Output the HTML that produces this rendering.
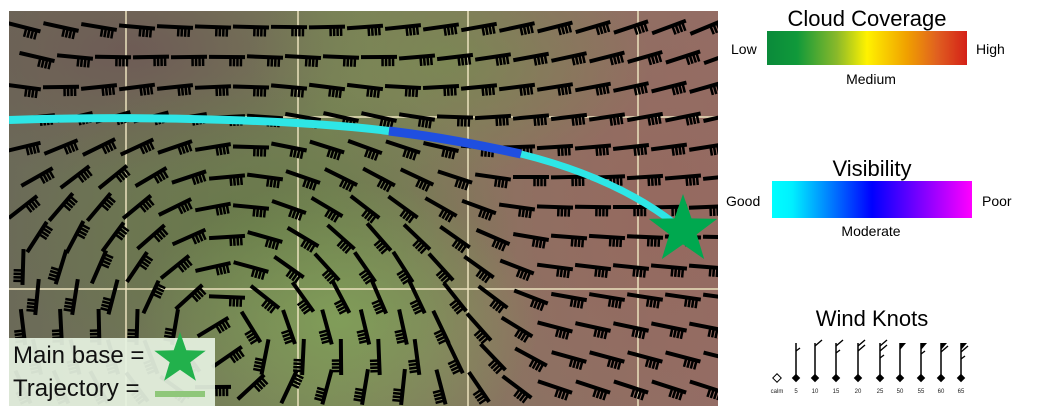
<!DOCTYPE html>
<html><head><meta charset="utf-8">
<style>
body{margin:0;width:1037px;height:414px;background:#fff;overflow:hidden;font-family:"Liberation Sans",sans-serif;position:relative}
#map{position:absolute;left:9px;top:11px;width:709px;height:395px;overflow:hidden;
background:
radial-gradient(ellipse 200px 140px at 330px 310px,rgba(130,160,90,0.9),rgba(130,160,90,0) 100%),
radial-gradient(ellipse 260px 160px at 250px 220px,rgba(100,120,70,0.8),rgba(100,120,70,0) 100%),
radial-gradient(ellipse 200px 120px at 440px 50px,rgba(120,140,80,0.7),rgba(120,140,80,0) 100%),
radial-gradient(ellipse 260px 300px at 650px 200px,rgba(150,105,95,0.9),rgba(150,105,95,0) 100%),
radial-gradient(ellipse 240px 130px at 120px 40px,rgba(110,90,85,0.95),rgba(110,90,85,0) 100%),
linear-gradient(90deg,#6b6a58,#7a8358 45%,#8a7363 75%,#936e66)}
.t{position:absolute;white-space:nowrap}
</style></head><body>
<div id="map">
<svg id="msvg" width="709" height="395"></svg>
</div>
<div class="t" style="left:9px;top:338px;width:206px;height:68px;background:rgba(230,242,225,0.92)"></div>
<div class="t" style="left:13px;top:342px;font-size:24px;color:#111">Main base =</div>
<div class="t" style="left:13px;top:375px;font-size:24px;color:#111">Trajectory =</div>
<svg class="t" style="left:0;top:0" width="1037" height="414" id="top">
<polygon points="" id="lstar" fill="#22b14c"/>
<rect x="155" y="391" width="50" height="6" fill="#8fc77a"/>
<defs>
<linearGradient id="cg"><stop offset="0" stop-color="#0a8a3a"/><stop offset="0.15" stop-color="#10993a"/><stop offset="0.35" stop-color="#8ab92a"/><stop offset="0.5" stop-color="#fff200"/><stop offset="0.7" stop-color="#f0a000"/><stop offset="0.85" stop-color="#e06020"/><stop offset="1" stop-color="#d42018"/></linearGradient>
<linearGradient id="vg"><stop offset="0" stop-color="#00ffff"/><stop offset="0.1" stop-color="#00f0ff"/><stop offset="0.5" stop-color="#0000ff"/><stop offset="1" stop-color="#ff00ff"/></linearGradient>
</defs>
<text x="867" y="26" font-size="22" text-anchor="middle" font-family="Liberation Sans">Cloud Coverage</text>
<rect x="767" y="31" width="200" height="34" fill="url(#cg)"/>
<text x="731" y="54" font-size="14">Low</text>
<text x="976" y="54" font-size="14">High</text>
<text x="871" y="84" font-size="14" text-anchor="middle">Medium</text>
<text x="872" y="176" font-size="22" text-anchor="middle">Visibility</text>
<rect x="772" y="181" width="200" height="37" fill="url(#vg)"/>
<text x="726" y="206" font-size="14">Good</text>
<text x="982" y="206" font-size="14">Poor</text>
<text x="871" y="236" font-size="14" text-anchor="middle">Moderate</text>
<text x="872" y="326" font-size="22" text-anchor="middle">Wind Knots</text>
<g id="knots"></g>
</svg>
<script>
const NS='http://www.w3.org/2000/svg';
function mk(p,t,a){const e=document.createElementNS(NS,t);for(const k in a)e.setAttribute(k,a[k]);p.appendChild(e);return e;}
function starPts(cx,cy,R){const r=R*0.4;let s=[];for(let i=0;i<10;i++){const a=-Math.PI/2+i*Math.PI/5,rr=i%2?r:R;s.push((cx+rr*Math.cos(a)).toFixed(1)+','+(cy+rr*Math.sin(a)).toFixed(1));}return s.join(' ');}
document.getElementById('lstar').setAttribute('points',starPts(180,359,27));
const m=document.getElementById('msvg');
const gridX=[117,289,459,629], gridY=[106,278];
gridX.forEach(x=>{const l=mk(m,'line',{x1:x,y1:0,x2:x,y2:395,stroke:'rgba(235,225,190,0.75)','stroke-width':2});

});
gridY.forEach(y=>{const l=mk(m,'line',{x1:0,y1:y,x2:709,y2:y,stroke:'rgba(235,225,190,0.75)','stroke-width':2});

});
const vortexCenter=[210,330], spiralDeg=8, farTopLeftDeg=15, farTopRightDeg=-25, farBottomDeg=20;
const g=mk(m,'g',{});


function norm(a){while(a>Math.PI/2)a-=Math.PI;while(a<=-Math.PI/2)a+=Math.PI;return a;}
for(let y=16;y<395;y+=30){for(let x=14;x<709;x+=38){
 const ox=(Math.floor(y/30)%2)*14; const px=x+ox, py=y;
 const dx=px-vortexCenter[0], dy=py-vortexCenter[1];
 const r=Math.hypot(dx,dy);
 let av=norm(Math.atan2(dy,dx)+Math.PI/2-spiralDeg*Math.PI/180);
 const topDeg=farTopLeftDeg+(px/709)*(farTopRightDeg-farTopLeftDeg);
 let au=(topDeg+(py/395)*(farBottomDeg-topDeg))*Math.PI/180;
 if(av-au>Math.PI/2)av-=Math.PI; if(au-av>Math.PI/2)av+=Math.PI;
 const w=Math.max(0,Math.min(1,(340-r)/150));
 const a=av*w+au*(1-w);
 const L=32, ux=Math.cos(a), uy=Math.sin(a);
 const x1=px-ux*L/2,y1=py-uy*L/2,x2=px+ux*L/2,y2=py+uy*L/2;
 const b=mk(g,'g',{stroke:'#000','stroke-width':4,'stroke-linecap':'square'});
 
 
 mk(b,'line',{x1,y1,x2,y2});
 const nx=-uy,ny=ux;
 for(let k=0;k<4;k++){const bx=x2-ux*(2+k*3.5),by=y2-uy*(2+k*3.5);
  mk(b,'line',{x1:bx,y1:by,x2:bx+nx*8,y2:by+ny*8,'stroke-width':2.5});}
}}
const tr1=mk(m,'path',{d:'M0,109 C150,104 300,110 380,120',stroke:'#2ee6e6','stroke-width':8,fill:'none'});


const tr2=mk(m,'path',{d:'M380,120 C430,126 470,134 512,143',stroke:'#1f4fe0','stroke-width':9,fill:'none'});


const tr3=mk(m,'path',{d:'M512,143 C580,160 630,185 665,212',stroke:'#2ee6e6','stroke-width':7,fill:'none'});


const st=mk(m,'polygon',{points:starPts(674,219,36),fill:'#00a84f'});


const kn=document.getElementById('knots');
const knotLabels=['calm','5','10','15','20','25','50','55','60','65'];
const knotFull=[0,0,1,1,2,2,0,0,1,1], knotHalf=[0,1,0,1,0,1,0,1,0,1], knotFlag=[0,0,0,0,0,0,1,1,1,1];
const kx=[777,796,815,836,858,880,900,921,941,961];
knotLabels.forEach((lab,i)=>{
 const x=kx[i], base=378;
 const gg=mk(kn,'g',{});
 
 
 const t=mk(gg,'text',{x:x,y:393,'font-size':6,'text-anchor':'middle',fill:'#222'}); t.textContent=lab;
 if(i===0){mk(gg,'rect',{x:x-3,y:base-3,width:6,height:6,fill:'#fff',stroke:'#000','stroke-width':1,transform:`rotate(45 ${x} ${base})`});return;}
 mk(gg,'rect',{x:x-3,y:base-3,width:6,height:6,fill:'#000',transform:`rotate(45 ${x} ${base})`});
 mk(gg,'line',{x1:x,y1:base,x2:x,y2:343,stroke:'#000','stroke-width':1.5});
 let y=343;
 if(knotFlag[i]){mk(gg,'polygon',{points:`${x},${y} ${x+6},${y} ${x},${y+7}`,fill:'#000'});y+=6;}
 for(let k=0;k<knotFull[i];k++){mk(gg,'line',{x1:x,y1:y+3,x2:x+7,y2:y-3,stroke:'#000','stroke-width':1.4});y+=5;}
 if(knotHalf[i]){const yy=knotFull[i]||knotFlag[i]?y+2:y+5;mk(gg,'line',{x1:x,y1:yy+3,x2:x+4,y2:yy,stroke:'#000','stroke-width':1.4});}
});
</script>
</body></html>
